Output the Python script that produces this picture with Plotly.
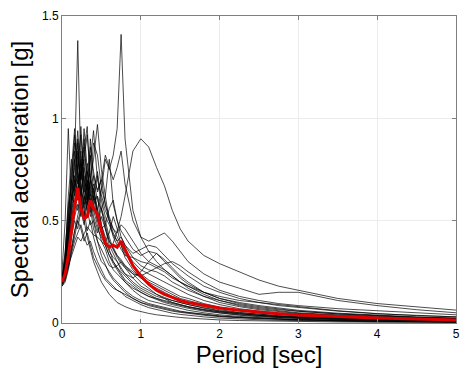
import plotly.graph_objects as go

periods = [0, 0.04, 0.08, 0.12, 0.16, 0.2, 0.24, 0.28, 0.32, 0.36, 0.4, 0.45, 0.5, 0.55, 0.6,
           0.65, 0.7, 0.75, 0.8, 0.9, 1.0, 1.1, 1.2, 1.3, 1.4, 1.5, 1.6, 1.8, 2.0, 2.25, 2.5,
           2.75, 3.0, 3.5, 4.0, 4.5, 5.0]

rec01 = [0.22, 0.28, 0.42, 0.55, 0.80, 1.38, 0.75, 0.62, 0.55, 0.48, 0.50, 0.40, 0.33, 0.28, 0.24, 0.21, 0.19, 0.17, 0.15, 0.12, 0.10, 0.085, 0.075, 0.065, 0.058, 0.052, 0.047, 0.038, 0.031, 0.025, 0.021, 0.018, 0.015, 0.011, 0.008, 0.006, 0.005]
rec02 = [0.20, 0.22, 0.30, 0.38, 0.45, 0.50, 0.55, 0.48, 0.60, 0.70, 0.62, 0.55, 0.65, 0.80, 0.75, 0.82, 0.95, 1.41, 0.90, 0.55, 0.42, 0.35, 0.30, 0.26, 0.23, 0.20, 0.18, 0.14, 0.11, 0.085, 0.07, 0.06, 0.05, 0.04, 0.032, 0.026, 0.022]
rec03 = [0.19, 0.22, 0.28, 0.33, 0.38, 0.42, 0.40, 0.44, 0.47, 0.45, 0.43, 0.42, 0.40, 0.38, 0.37, 0.39, 0.45, 0.52, 0.62, 0.84, 0.90, 0.86, 0.76, 0.67, 0.55, 0.46, 0.40, 0.33, 0.29, 0.25, 0.21, 0.18, 0.16, 0.12, 0.095, 0.078, 0.063]
rec04 = [0.25, 0.50, 0.95, 0.60, 0.70, 0.65, 0.80, 0.55, 0.45, 0.50, 0.42, 0.35, 0.30, 0.28, 0.25, 0.22, 0.20, 0.18, 0.16, 0.13, 0.11, 0.095, 0.085, 0.075, 0.066, 0.058, 0.052, 0.042, 0.035, 0.028, 0.023, 0.019, 0.016, 0.012, 0.009, 0.007, 0.006]
rec05 = [0.22, 0.35, 0.55, 0.75, 0.95, 0.70, 0.60, 0.85, 0.96, 0.65, 0.55, 0.48, 0.40, 0.36, 0.30, 0.26, 0.24, 0.22, 0.20, 0.17, 0.15, 0.13, 0.12, 0.11, 0.10, 0.09, 0.08, 0.066, 0.055, 0.045, 0.038, 0.032, 0.028, 0.022, 0.017, 0.014, 0.011]
rec06 = [0.20, 0.28, 0.45, 0.62, 0.58, 0.78, 0.92, 0.70, 0.65, 0.78, 0.94, 0.70, 0.62, 0.55, 0.50, 0.42, 0.38, 0.40, 0.35, 0.30, 0.26, 0.24, 0.22, 0.20, 0.18, 0.16, 0.14, 0.11, 0.09, 0.07, 0.058, 0.05, 0.045, 0.035, 0.028, 0.022, 0.018]
rec07 = [0.21, 0.25, 0.38, 0.50, 0.60, 0.55, 0.65, 0.72, 0.60, 0.70, 0.80, 0.97, 0.75, 0.62, 0.80, 0.58, 0.50, 0.45, 0.42, 0.36, 0.33, 0.35, 0.34, 0.30, 0.26, 0.22, 0.19, 0.15, 0.12, 0.10, 0.085, 0.072, 0.062, 0.048, 0.038, 0.03, 0.024]
rec08 = [0.19, 0.22, 0.30, 0.42, 0.50, 0.46, 0.55, 0.62, 0.58, 0.66, 0.72, 0.65, 0.70, 0.82, 0.76, 0.70, 0.76, 0.84, 0.68, 0.50, 0.42, 0.40, 0.42, 0.44, 0.40, 0.35, 0.30, 0.24, 0.20, 0.17, 0.14, 0.15, 0.15, 0.11, 0.085, 0.065, 0.05]
rec09 = [0.20, 0.24, 0.34, 0.48, 0.66, 0.88, 0.62, 0.52, 0.70, 0.58, 0.50, 0.44, 0.52, 0.46, 0.38, 0.34, 0.30, 0.26, 0.24, 0.22, 0.25, 0.30, 0.34, 0.31, 0.27, 0.23, 0.20, 0.15, 0.12, 0.095, 0.08, 0.068, 0.058, 0.044, 0.034, 0.027, 0.021]
rec10 = [0.18, 0.20, 0.26, 0.34, 0.40, 0.44, 0.48, 0.42, 0.38, 0.40, 0.35, 0.30, 0.26, 0.22, 0.20, 0.18, 0.16, 0.15, 0.13, 0.11, 0.09, 0.075, 0.065, 0.055, 0.048, 0.042, 0.037, 0.03, 0.024, 0.019, 0.016, 0.013, 0.011, 0.008, 0.006, 0.005, 0.004]
rec11 = [0.21, 0.30, 0.48, 0.72, 0.88, 0.80, 0.70, 0.95, 0.75, 0.62, 0.68, 0.52, 0.46, 0.48, 0.40, 0.36, 0.32, 0.29, 0.27, 0.24, 0.23, 0.25, 0.27, 0.29, 0.30, 0.28, 0.25, 0.20, 0.16, 0.13, 0.11, 0.095, 0.085, 0.07, 0.06, 0.05, 0.04]
rec12 = [0.20, 0.26, 0.40, 0.58, 0.72, 0.62, 0.84, 0.66, 0.55, 0.90, 0.70, 0.60, 0.55, 0.48, 0.56, 0.60, 0.50, 0.42, 0.38, 0.34, 0.36, 0.38, 0.37, 0.33, 0.29, 0.26, 0.23, 0.18, 0.15, 0.12, 0.10, 0.085, 0.075, 0.058, 0.045, 0.036, 0.03]
rec13 = [0.22, 0.30, 0.50, 0.68, 0.92, 0.74, 0.58, 0.50, 0.62, 0.56, 0.46, 0.40, 0.36, 0.32, 0.28, 0.27, 0.28, 0.30, 0.28, 0.24, 0.20, 0.17, 0.14, 0.12, 0.10, 0.09, 0.08, 0.065, 0.054, 0.044, 0.036, 0.03, 0.026, 0.02, 0.015, 0.012, 0.01]
rec14 = [0.19, 0.23, 0.32, 0.45, 0.55, 0.62, 0.58, 0.66, 0.78, 0.70, 0.88, 0.82, 0.66, 0.58, 0.50, 0.46, 0.44, 0.48, 0.46, 0.40, 0.34, 0.30, 0.28, 0.26, 0.23, 0.20, 0.18, 0.15, 0.13, 0.11, 0.10, 0.09, 0.08, 0.06, 0.046, 0.036, 0.03]
rec15 = [0.20, 0.22, 0.28, 0.36, 0.42, 0.50, 0.46, 0.40, 0.44, 0.38, 0.32, 0.28, 0.24, 0.21, 0.19, 0.17, 0.16, 0.15, 0.14, 0.12, 0.10, 0.09, 0.08, 0.07, 0.062, 0.055, 0.05, 0.04, 0.033, 0.027, 0.022, 0.018, 0.015, 0.011, 0.008, 0.006, 0.005]
rec16 = [0.21, 0.27, 0.42, 0.60, 0.68, 0.90, 0.66, 0.58, 0.62, 0.82, 0.60, 0.62, 0.55, 0.62, 0.50, 0.44, 0.40, 0.36, 0.33, 0.32, 0.30, 0.29, 0.27, 0.25, 0.22, 0.20, 0.17, 0.13, 0.10, 0.08, 0.065, 0.055, 0.047, 0.036, 0.028, 0.022, 0.018]
rec17 = [0.20, 0.32, 0.62, 0.80, 0.66, 0.72, 0.96, 0.68, 0.60, 0.52, 0.58, 0.62, 0.48, 0.40, 0.35, 0.32, 0.30, 0.27, 0.24, 0.20, 0.17, 0.15, 0.13, 0.12, 0.11, 0.10, 0.09, 0.075, 0.06, 0.05, 0.042, 0.036, 0.031, 0.024, 0.018, 0.014, 0.011]
rec18 = [0.22, 0.28, 0.44, 0.62, 0.80, 0.68, 0.74, 0.80, 0.92, 0.72, 0.64, 0.74, 0.60, 0.52, 0.48, 0.43, 0.40, 0.42, 0.38, 0.32, 0.28, 0.26, 0.25, 0.23, 0.20, 0.18, 0.16, 0.13, 0.11, 0.09, 0.075, 0.065, 0.057, 0.045, 0.035, 0.028, 0.023]
rec19 = [0.18, 0.21, 0.27, 0.35, 0.45, 0.52, 0.60, 0.50, 0.42, 0.36, 0.30, 0.25, 0.20, 0.17, 0.14, 0.12, 0.10, 0.09, 0.08, 0.065, 0.055, 0.047, 0.04, 0.035, 0.03, 0.027, 0.024, 0.019, 0.015, 0.012, 0.01, 0.008, 0.007, 0.005, 0.004, 0.003, 0.003]
rec20 = [0.21, 0.26, 0.40, 0.52, 0.66, 0.60, 0.72, 0.86, 0.70, 0.60, 0.66, 0.56, 0.48, 0.42, 0.36, 0.30, 0.27, 0.24, 0.21, 0.18, 0.15, 0.13, 0.115, 0.10, 0.09, 0.08, 0.072, 0.058, 0.048, 0.038, 0.031, 0.026, 0.022, 0.016, 0.012, 0.009, 0.007]
rec21 = [0.19, 0.28, 0.52, 0.70, 0.62, 0.84, 0.64, 0.56, 0.74, 0.62, 0.52, 0.46, 0.42, 0.38, 0.33, 0.29, 0.26, 0.23, 0.20, 0.16, 0.13, 0.11, 0.10, 0.09, 0.08, 0.07, 0.062, 0.05, 0.04, 0.032, 0.026, 0.021, 0.018, 0.013, 0.01, 0.008, 0.006]
rec22 = [0.20, 0.25, 0.36, 0.50, 0.58, 0.70, 0.78, 0.64, 0.72, 0.86, 0.74, 0.64, 0.70, 0.58, 0.52, 0.46, 0.42, 0.38, 0.34, 0.28, 0.24, 0.21, 0.19, 0.17, 0.15, 0.13, 0.12, 0.095, 0.078, 0.062, 0.05, 0.042, 0.036, 0.027, 0.021, 0.017, 0.014]
rec23 = [0.22, 0.34, 0.58, 0.66, 0.84, 0.72, 0.62, 0.76, 0.66, 0.54, 0.60, 0.72, 0.56, 0.46, 0.40, 0.37, 0.33, 0.30, 0.27, 0.22, 0.18, 0.16, 0.14, 0.125, 0.11, 0.10, 0.09, 0.072, 0.058, 0.046, 0.037, 0.031, 0.026, 0.019, 0.015, 0.012, 0.009]
rec24 = [0.18, 0.22, 0.32, 0.44, 0.52, 0.58, 0.52, 0.60, 0.68, 0.56, 0.62, 0.50, 0.44, 0.40, 0.44, 0.52, 0.46, 0.38, 0.32, 0.26, 0.22, 0.19, 0.17, 0.15, 0.13, 0.115, 0.10, 0.08, 0.065, 0.052, 0.042, 0.035, 0.03, 0.022, 0.017, 0.013, 0.01]
rec25 = [0.21, 0.30, 0.46, 0.60, 0.76, 0.94, 0.70, 0.80, 0.60, 0.70, 0.58, 0.50, 0.56, 0.50, 0.42, 0.36, 0.33, 0.31, 0.28, 0.25, 0.22, 0.20, 0.18, 0.16, 0.14, 0.12, 0.11, 0.09, 0.074, 0.06, 0.05, 0.043, 0.037, 0.028, 0.022, 0.018, 0.015]
rec26 = [0.20, 0.24, 0.36, 0.48, 0.56, 0.66, 0.74, 0.90, 0.68, 0.58, 0.64, 0.54, 0.44, 0.38, 0.33, 0.30, 0.27, 0.25, 0.23, 0.19, 0.16, 0.14, 0.12, 0.105, 0.095, 0.085, 0.077, 0.062, 0.05, 0.04, 0.033, 0.027, 0.023, 0.017, 0.013, 0.01, 0.008]

records = [rec01, rec02, rec03, rec04, rec05, rec06, rec07, rec08, rec09, rec10,
           rec11, rec12, rec13, rec14, rec15, rec16, rec17, rec18, rec19, rec20,
           rec21, rec22, rec23, rec24, rec25, rec26]

mean_sa = [0.20, 0.24, 0.33, 0.45, 0.57, 0.66, 0.56, 0.51, 0.52, 0.60, 0.56, 0.53, 0.45, 0.39, 0.37, 0.38, 0.37, 0.40, 0.36, 0.28, 0.23, 0.19, 0.16, 0.14, 0.125, 0.11, 0.10, 0.085, 0.073, 0.062, 0.053, 0.045, 0.039, 0.031, 0.024, 0.019, 0.015]

x_ticks = [0, 1, 2, 3, 4, 5]
y_ticks = [0, 0.5, 1, 1.5]
y_tick_labels = ["0", "0.5", "1", "1.5"]

fig = go.Figure()
for r in records:
    fig.add_trace(go.Scatter(x=periods, y=r, mode="lines",
                             line=dict(color="black", width=0.7),
                             showlegend=False, hoverinfo="skip"))
fig.add_trace(go.Scatter(x=periods, y=mean_sa, mode="lines",
                         line=dict(color="#e00000", width=3),
                         showlegend=False))

axis_common = dict(
    showline=True, linecolor="#7f7f7f", linewidth=1, mirror="ticks",
    ticks="inside", ticklen=4, tickcolor="#7f7f7f",
    showgrid=True, gridcolor="#ececec", gridwidth=1,
    zeroline=False, automargin=False,
    tickfont=dict(family="Liberation Sans, Arial", size=12, color="black"),
)

fig.update_layout(
    width=472, height=375,
    margin=dict(l=62, r=16, t=16, b=52),
    paper_bgcolor="white", plot_bgcolor="white",
    font=dict(family="Liberation Sans, Arial", color="black"),
    xaxis=dict(range=[0, 5], tickvals=x_ticks,
               title=dict(text="Period [sec]", font=dict(size=24), standoff=2),
               **axis_common),
    yaxis=dict(range=[0, 1.5], tickvals=y_ticks, ticktext=y_tick_labels,
               title=dict(text="Spectral acceleration [g]", font=dict(size=24), standoff=6),
               **axis_common),
)

fig.write_html("out.html", config={"displayModeBar": False},
               post_script="document.body.style.margin='0';")
